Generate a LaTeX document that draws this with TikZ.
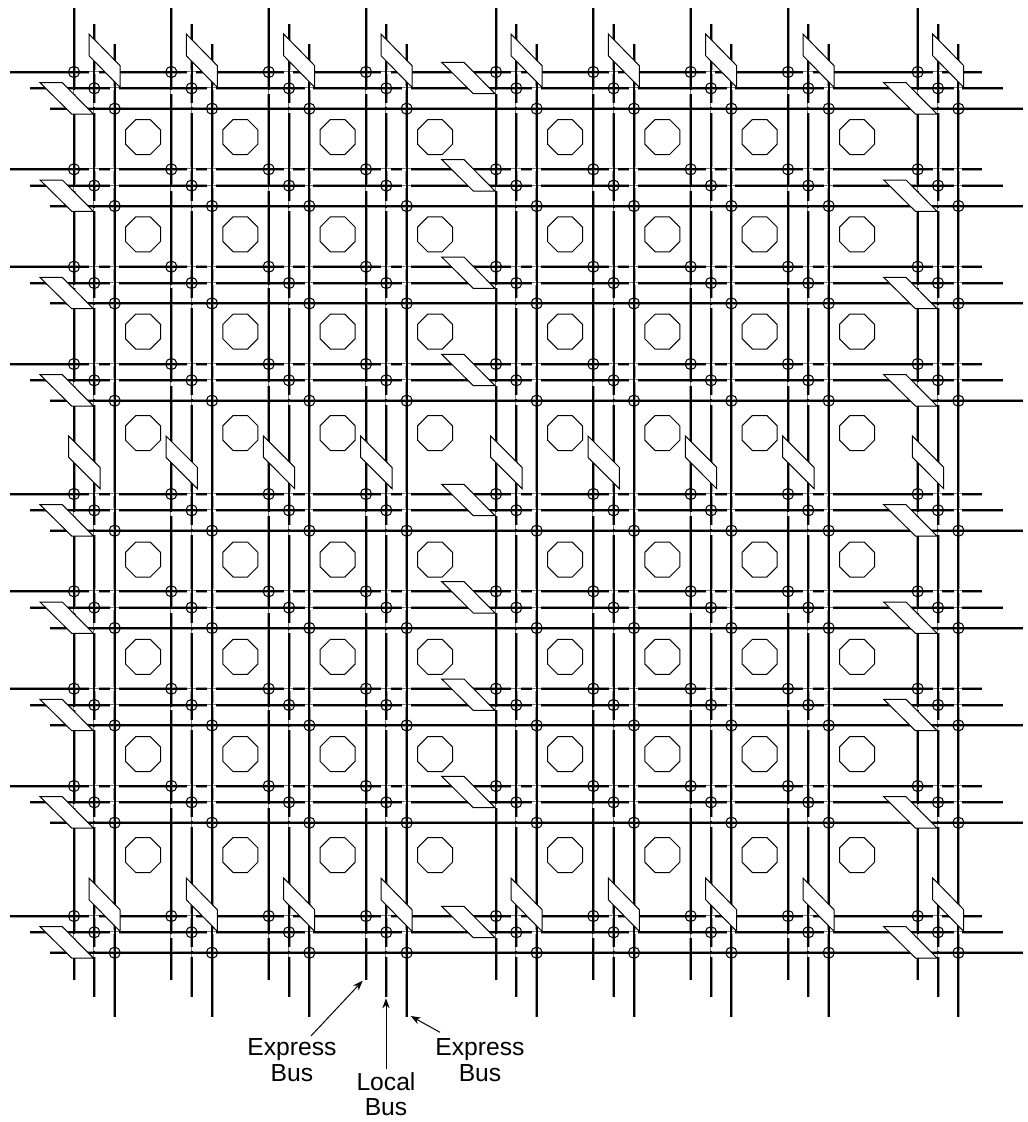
\documentclass[tikz,border=0pt]{standalone}
\usepackage{fontspec}
\setmainfont{Liberation Sans}
\usetikzlibrary{arrows.meta}
\tikzset{
  px/.style={x=0.75pt,y=-0.75pt},
  bus/.style={line width=1.5pt,black},
  halo/.style={line width=2.25pt,black!40},
  gapmark/.style={fill=white,draw=none},
  hair/.style={draw=black!55,line width=0.3pt},
  joint/.style={circle,draw=black,line width=0.8pt,minimum size=8.4pt,inner sep=0pt,fill=none},
  swbox/.style={draw=black,fill=white,line width=0.75pt,line join=miter},
  logic/.style={draw=black,line width=0.75pt,line join=miter},
  callout/.style={draw=black,line width=0.75pt,-{Stealth[length=7.5pt,width=5.5pt]}},
  caption/.style={align=center,font=\fontsize{18.5}{19}\selectfont,inner sep=0pt}
}
\def\colsx{74,171.3,268.7,366,496,593.3,690.7,788,917.7}
\def\rowsy{72,169.3,266.7,364,494,591.3,688.7,786,916}
\begin{document}
\begin{tikzpicture}[px]
\useasboundingbox (0,0) rectangle (1028,1122);
% soft edges of the vertical buses
\foreach \x in \colsx {
  \draw[halo] (\x,8) -- (\x,980);
  \draw[halo] (\x+20.3,24) -- (\x+20.3,996.7);
  \draw[halo] (\x+40.7,44) -- (\x+40.7,1016.7);
}
% horizontal buses with their crossover breaks
\foreach \y in \rowsy {
  \draw[halo] (10,\y) -- (982,\y);
  \draw[halo] (30,\y+16.3) -- (1003,\y+16.3);
  \draw[halo] (50,\y+36.7) -- (1023,\y+36.7);
  \draw[bus] (10,\y) -- (982,\y);
  \draw[bus] (30,\y+16.3) -- (1003,\y+16.3);
  \draw[bus] (50,\y+36.7) -- (1023,\y+36.7);
  \foreach \x in \colsx {
    \fill[gapmark] (\x+15.3,\y-2) rectangle (\x+24.5,\y+2);
    \draw[hair] (\x+15.3,\y-0.9) -- (\x+24.5,\y-0.9);
    \fill[gapmark] (\x+35.8,\y-2) rectangle (\x+44.6,\y+2);
    \draw[hair] (\x+35.8,\y-0.9) -- (\x+44.6,\y-0.9);
    \fill[gapmark] (\x+35.8,\y+14.3) rectangle (\x+44.6,\y+18.3);
    \draw[hair] (\x+35.8,\y+15.4) -- (\x+44.6,\y+15.4);
  }
}
% vertical buses with their crossover breaks
\foreach \x in \colsx {
  \draw[bus] (\x,8) -- (\x,980);
  \draw[bus] (\x+20.3,24) -- (\x+20.3,996.7);
  \draw[bus] (\x+40.7,44) -- (\x+40.7,1016.7);
  \foreach \y in \rowsy {
    \fill[gapmark] (\x-2,\y+17.8) rectangle (\x+2,\y+21.5);
    \draw[hair] (\x-0.9,\y+17.8) -- (\x-0.9,\y+21.5);
    \fill[gapmark] (\x+18.3,\y+31.3) rectangle (\x+22.3,\y+35.2);
    \draw[hair] (\x+19.4,\y+31.3) -- (\x+19.4,\y+35.2);
    \fill[gapmark] (\x+18.3,\y+38.2) rectangle (\x+22.3,\y+41.3);
    \draw[hair] (\x+19.4,\y+38.2) -- (\x+19.4,\y+41.3);
  }
}
% bus joints
\foreach \x [count=\i] in \colsx {
  \foreach \y [count=\r] in \rowsy {
    \node[joint] (ja-\i-\r) at (\x,\y) {};
    \node[joint] (jb-\i-\r) at (\x+20.3,\y+16.3) {};
    \node[joint] (jc-\i-\r) at (\x+40.7,\y+36.7) {};
  }
}
% logic blocks
\foreach \cx in {143,240.3,337.6,435,565,662.3,759.6,857} {
  \foreach \cy in {137,234.3,331.6,433,559.5,656.8,754.1,855} {
    \draw[logic] (\cx-7.2,\cy-17.5) -- (\cx+7.2,\cy-17.5) -- (\cx+17.5,\cy-7.2) -- (\cx+17.5,\cy+7.2)
      -- (\cx+7.2,\cy+17.5) -- (\cx-7.2,\cy+17.5) -- (\cx-17.5,\cy+7.2) -- (\cx-17.5,\cy-7.2) -- cycle;
  }
}
% switches on the vertical buses
\foreach \x in \colsx {
  \foreach \y in {72,916} {
    \draw[swbox] (\x+15,\y-38) -- (\x+46,\y-6.3) -- (\x+46,\y+15.3) -- (\x+15,\y-16.3) -- cycle;
  }
  \draw[swbox] (\x-5.3,494-58) -- (\x+26,494-26.7) -- (\x+26,494-5.3) -- (\x-5.3,494-36.7) -- cycle;
}
% switches on the horizontal buses
\foreach \y in \rowsy {
  \foreach \x in {74,917.7} {
    \draw[swbox] (\x-34,\y+10.7) -- (\x-11.7,\y+10.7) -- (\x+19.3,\y+42) -- (\x-2.3,\y+42) -- cycle;
  }
  \draw[swbox] (496-54.3,\y-9.7) -- (496-32,\y-9.7) -- (496-1,\y+21.7) -- (496-22.7,\y+21.7) -- cycle;
}
% labels
\node[caption] (lblA) at (292,1060) {Express\\Bus};
\node[caption] (lblB) at (386,1094) {Local\\Bus};
\node[caption] (lblC) at (480,1060) {Express\\Bus};
\coordinate (tailA) at (311,1036);
\coordinate (tipA) at (362.7,980.7);
\coordinate (tailB) at (386,1069.3);
\coordinate (tipB) at (386,998.3);
\coordinate (tailC) at (440,1032.3);
\coordinate (tipC) at (410.7,1016);
\draw[callout] (tailA) -- (tipA);
\draw[callout] (tailB) -- (tipB);
\draw[callout] (tailC) -- (tipC);
\end{tikzpicture}
\end{document}
